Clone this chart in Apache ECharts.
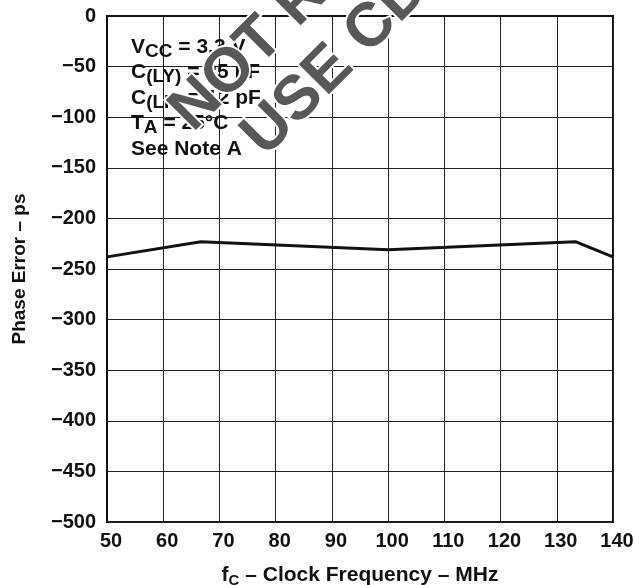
<!DOCTYPE html>
<html>
<head>
<meta charset="utf-8">
<script src="https://cdn.jsdelivr.net/npm/echarts@6/dist/echarts.min.js"></script>
<style>
html, body { margin: 0; padding: 0; background: #fff; }
#main { width: 635px; height: 585px; }
</style>
</head>
<body>
<div id="main"></div>
<script>
// phase error vs clock frequency
const freq = [50, 66.7, 100, 133.3, 140];
const phaseErr = [-238, -223, -231, -223, -238];
const xTicks = [50, 60, 70, 80, 90, 100, 110, 120, 130, 140];
const yTicks = [0, -50, -100, -150, -200, -250, -300, -350, -400, -450, -500];

const font = 'Liberation Sans, Arial, sans-serif';
const ink = '#111';

const chart = echarts.init(document.getElementById('main'));

const option = {
    backgroundColor: '#fff',
    animation: false,
    grid: {
        left: 107, right: 22, top: 16, bottom: 63,
        outerBoundsMode: 'none',
        show: true, borderColor: ink, borderWidth: 2
    },
    xAxis: {
        type: 'value',
        min: xTicks[0], max: xTicks[xTicks.length - 1], interval: 10,
        axisLine: { show: true, lineStyle: { color: ink, width: 2 } },
        axisTick: { show: false },
        splitLine: { show: true, lineStyle: { color: '#222', width: 1 } },
        axisLabel: { color: ink, fontFamily: font, fontWeight: 'bold', fontSize: 20, margin: 9, padding: [0, 0, 0, 8] },
        name: '{a|f}{s|C}{a| – Clock Frequency – MHz}',
        nameLocation: 'middle',
        nameGap: 41,
        nameTextStyle: {
            rich: {
                a: { color: ink, fontFamily: font, fontWeight: 'bold', fontSize: 21 },
                s: { color: ink, fontFamily: font, fontWeight: 'bold', fontSize: 15, padding: [10, 0, 0, 0] }
            }
        }
    },
    yAxis: {
        type: 'value',
        min: yTicks[yTicks.length - 1], max: yTicks[0], interval: 50,
        axisLine: { show: true, lineStyle: { color: ink, width: 2 } },
        axisTick: { show: false },
        splitLine: { show: true, lineStyle: { color: '#222', width: 1 } },
        axisLabel: {
            color: ink, fontFamily: font, fontWeight: 'bold', fontSize: 20, margin: 11,
            padding: [4, 0, 0, 0],
            formatter: function (v) { return v < 0 ? '\u2212' + Math.abs(v) : String(v); }
        },
        name: 'Phase Error – ps',
        nameLocation: 'middle',
        nameGap: 78,
        nameTextStyle: { color: ink, fontFamily: font, fontWeight: 'bold', fontSize: 19 }
    },
    series: [{
        type: 'line',
        data: freq.map((f, i) => [f, phaseErr[i]]),
        symbol: 'none',
        lineStyle: { color: ink, width: 3 },
        z: 3
    }],
    graphic: [
        {
            type: 'text', left: 131, top: 33, z: 10,
            style: {
                text: [
                    '{b|V}{s|CC}{b| = 3.3 V}',
                    '{b|C}{s|(LY)}{b| = 25 pF}',
                    '{b|C}{s|(LF)}{b| = 12 pF}',
                    '{b|T}{s|A}{b| = 25°C}',
                    '{b|See Note A}'
                ].join('\n'),
                rich: {
                    b: { fill: ink, fontFamily: font, fontWeight: 'bold', fontSize: 21, lineHeight: 25.5 },
                    s: { fill: ink, fontFamily: font, fontWeight: 'bold', fontSize: 19, lineHeight: 25.5, padding: [9, 0, 0, 0] }
                }
            }
        },
        {
            type: 'text', x: 181, y: 121, rotation: Math.PI / 4, z: 20,
            style: {
                text: 'NOT RECOMMENDED FOR NEW DESIGNS',
                fill: '#58585a', stroke: '#fff', lineWidth: 4,
                font: 'bold 62px ' + font,
                textVerticalAlign: 'middle', textAlign: 'left'
            }
        },
        {
            type: 'text', x: 253, y: 146, rotation: Math.PI / 4, z: 20,
            style: {
                text: 'USE CDCVF2510A INSTEAD',
                fill: '#58585a', stroke: '#fff', lineWidth: 4,
                font: 'bold 62px ' + font,
                textVerticalAlign: 'middle', textAlign: 'left'
            }
        }
    ]
};

chart.setOption(option);
</script>
</body>
</html>
